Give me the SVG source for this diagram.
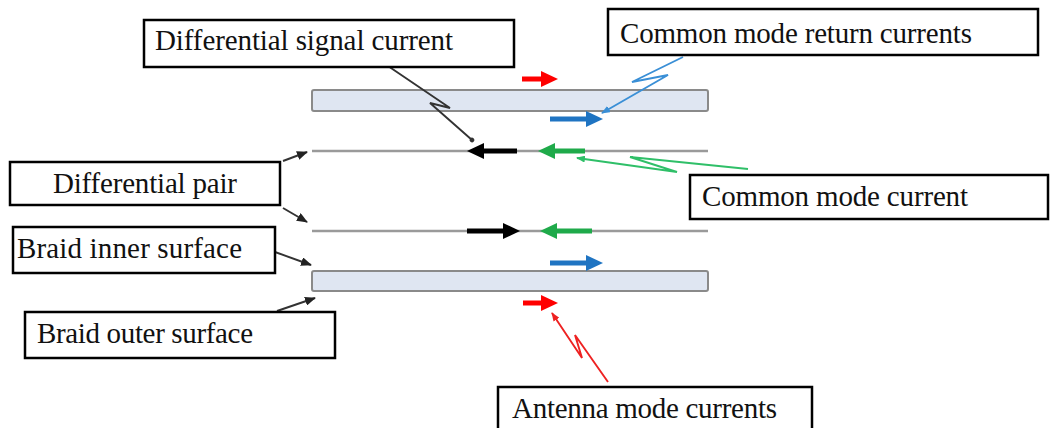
<svg xmlns="http://www.w3.org/2000/svg" width="1058" height="428" viewBox="0 0 1058 428">
<style>
.box{fill:#fff;stroke:#000;stroke-width:2.5}
.lbl{font-family:"Liberation Serif","Times New Roman",serif;font-size:29px;fill:#111}
.wire{stroke:#9a9a9a;stroke-width:2.5;fill:none}
.braid{fill:#dfe6f2;stroke:#8a8a8a;stroke-width:2}
.cur{stroke-width:5;fill:none;stroke-linecap:butt}
.lead{fill:none;stroke-width:1.9;stroke-linejoin:miter}
</style>
<defs>
<marker id="hR" markerUnits="userSpaceOnUse" markerWidth="17" markerHeight="16" refX="6" refY="8" orient="auto"><path d="M0,0L17,8L0,16z" fill="#ff0000"/></marker>
<marker id="hB" markerUnits="userSpaceOnUse" markerWidth="17" markerHeight="16" refX="6" refY="8" orient="auto"><path d="M0,0L17,8L0,16z" fill="#1f74c2"/></marker>
<marker id="hK" markerUnits="userSpaceOnUse" markerWidth="17" markerHeight="16" refX="6" refY="8" orient="auto"><path d="M0,0L17,8L0,16z" fill="#000"/></marker>
<marker id="hG" markerUnits="userSpaceOnUse" markerWidth="17" markerHeight="16" refX="6" refY="8" orient="auto"><path d="M0,0L17,8L0,16z" fill="#1faa4a"/></marker>
<marker id="sK" markerUnits="userSpaceOnUse" markerWidth="11" markerHeight="9" refX="10" refY="4.5" orient="auto"><path d="M0,0L11,4.5L0,9z" fill="#222"/></marker>
<marker id="sB" markerUnits="userSpaceOnUse" markerWidth="9" markerHeight="7" refX="8" refY="3.5" orient="auto"><path d="M0,0L9,3.5L0,7z" fill="#3a8fd6"/></marker>
<marker id="sG" markerUnits="userSpaceOnUse" markerWidth="9" markerHeight="7" refX="8" refY="3.5" orient="auto"><path d="M0,0L9,3.5L0,7z" fill="#2fbf68"/></marker>
<marker id="sR" markerUnits="userSpaceOnUse" markerWidth="9" markerHeight="7" refX="8" refY="3.5" orient="auto"><path d="M0,0L9,3.5L0,7z" fill="#ee2222"/></marker>
<marker id="sD" markerUnits="userSpaceOnUse" markerWidth="6" markerHeight="6" refX="3" refY="3" orient="auto"><circle cx="3" cy="3" r="2.4" fill="#333"/></marker>
</defs>

<g id="cable">
<rect class="braid" x="312" y="90" width="396" height="21" rx="2"/>
<line class="wire" x1="312" y1="151" x2="708" y2="151"/>
<line class="wire" x1="312" y1="231" x2="708" y2="231"/>
<rect class="braid" x="312" y="271" width="396" height="20" rx="2"/>
</g>

<g id="currents">
<line class="cur" stroke="#ff0000" x1="522" y1="79" x2="547" y2="79" marker-end="url(#hR)"/>
<line class="cur" stroke="#1f74c2" x1="550" y1="119" x2="592" y2="119" marker-end="url(#hB)"/>
<line class="cur" stroke="#000" x1="517" y1="151" x2="478" y2="151" marker-end="url(#hK)"/>
<line class="cur" stroke="#1faa4a" x1="585" y1="151" x2="549" y2="151" marker-end="url(#hG)"/>
<line class="cur" stroke="#000" x1="467" y1="231" x2="509" y2="231" marker-end="url(#hK)"/>
<line class="cur" stroke="#1faa4a" x1="592" y1="231" x2="551" y2="231" marker-end="url(#hG)"/>
<line class="cur" stroke="#1f74c2" x1="550" y1="263" x2="592" y2="263" marker-end="url(#hB)"/>
<line class="cur" stroke="#ff0000" x1="523" y1="303" x2="547" y2="303" marker-end="url(#hR)"/>
</g>

<g id="connectors">
<polyline class="lead" stroke="#333" points="388,66 450,108 430,103 472,140" marker-end="url(#sD)"/>
<polyline class="lead" stroke="#3a8fd6" points="683,57 632,82 668,75 602,113" marker-end="url(#sB)"/>
<polyline class="lead" stroke="#2fbf68" points="748,169 630,157 677,172 577,158" marker-end="url(#sG)"/>
<polyline class="lead" stroke="#ee2222" points="608,382 575,335 582,358 552,313" marker-end="url(#sR)"/>
<line class="lead" stroke="#333" x1="283" y1="161" x2="307" y2="152" marker-end="url(#sK)"/>
<line class="lead" stroke="#333" x1="283" y1="208" x2="307" y2="222" marker-end="url(#sK)"/>
<line class="lead" stroke="#333" x1="275" y1="252" x2="311" y2="265" marker-end="url(#sK)"/>
<line class="lead" stroke="#333" x1="277" y1="311" x2="315" y2="298" marker-end="url(#sK)"/>
</g>

<g id="n-diff-signal"><rect class="box" x="144" y="20" width="370" height="47"/><text class="lbl" x="155" y="50" textLength="298" lengthAdjust="spacing">Differential signal current</text></g>
<g id="n-cm-return"><rect class="box" x="608" y="9" width="430" height="46"/><text class="lbl" x="620" y="43" textLength="352" lengthAdjust="spacing">Common mode return currents</text></g>
<g id="n-cm-current"><rect class="box" x="690" y="175" width="358" height="44"/><text class="lbl" x="702" y="206" textLength="266" lengthAdjust="spacing">Common mode current</text></g>
<g id="n-diff-pair"><rect class="box" x="10" y="162" width="270" height="43"/><text class="lbl" x="53" y="193" textLength="184" lengthAdjust="spacing">Differential pair</text></g>
<g id="n-braid-inner"><rect class="box" x="13" y="227" width="262" height="46"/><text class="lbl" x="17" y="258" textLength="225" lengthAdjust="spacing">Braid inner surface</text></g>
<g id="n-braid-outer"><rect class="box" x="25" y="312" width="310" height="46"/><text class="lbl" x="37" y="343" textLength="216" lengthAdjust="spacing">Braid outer surface</text></g>
<g id="n-antenna"><rect class="box" x="498" y="387" width="314" height="50"/><text class="lbl" x="512" y="418" textLength="265" lengthAdjust="spacing">Antenna mode currents</text></g>
</svg>
